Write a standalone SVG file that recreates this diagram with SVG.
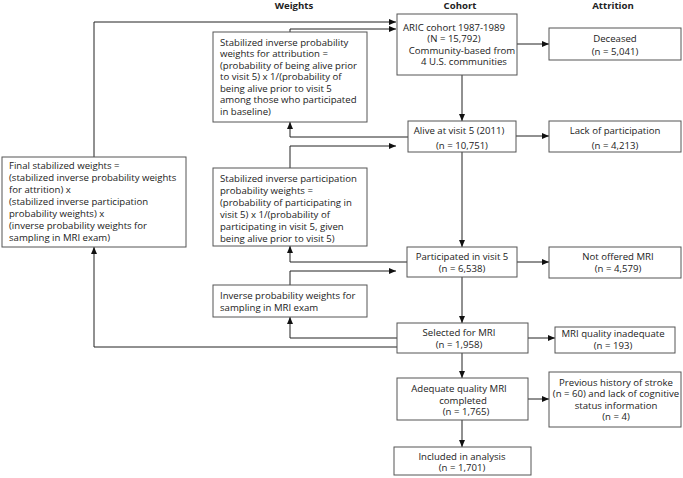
<svg xmlns="http://www.w3.org/2000/svg" width="683" height="478" viewBox="0 0 683 478">
<style>
.box{fill:#fff;stroke:#555;stroke-width:1}
.t{font-family:"Open Sans","Noto Sans",sans-serif;font-size:9.6px;fill:#222}
.c{text-anchor:middle}
.h{font-family:"Open Sans","Noto Sans",sans-serif;font-size:9.6px;font-weight:bold;fill:#222;text-anchor:middle}
.ln{fill:none;stroke:#222;stroke-width:1}
</style>
<defs>
<marker id="ar" markerWidth="7" markerHeight="6" refX="7" refY="3" orient="auto" markerUnits="userSpaceOnUse">
<path d="M0,0 L7,3 L0,6 Z" fill="#111"/>
</marker>
</defs>
<rect width="683" height="478" fill="#fff"/>
<g id="headers">
<text class="h" x="294" y="8.5">Weights</text>
<text class="h" x="460" y="8.5">Cohort</text>
<text class="h" x="613" y="8.5">Attrition</text>
</g>
<g id="connectors">
<path class="ln" d="M462,75 V121" marker-end="url(#ar)"/>
<path class="ln" d="M462,152 V247" marker-end="url(#ar)"/>
<path class="ln" d="M462,277 V323" marker-end="url(#ar)"/>
<path class="ln" d="M462,353 V378" marker-end="url(#ar)"/>
<path class="ln" d="M462,420 V447" marker-end="url(#ar)"/>
<path class="ln" d="M517,44 H549" marker-end="url(#ar)"/>
<path class="ln" d="M516,136 H549" marker-end="url(#ar)"/>
<path class="ln" d="M517,262 H549" marker-end="url(#ar)"/>
<path class="ln" d="M528,338 H555" marker-end="url(#ar)"/>
<path class="ln" d="M528,399 H549" marker-end="url(#ar)"/>
<path class="ln" d="M94,157 V22 H396" marker-end="url(#ar)"/>
<path class="ln" d="M290,32 V29 H396" marker-end="url(#ar)"/>
<path class="ln" d="M408,137 H290 V122" marker-end="url(#ar)"/>
<path class="ln" d="M290,168 V146 H396" marker-end="url(#ar)"/>
<path class="ln" d="M407,262 H290 V246" marker-end="url(#ar)"/>
<path class="ln" d="M290,285 V271 H396" marker-end="url(#ar)"/>
<path class="ln" d="M397,338 H290 V317" marker-end="url(#ar)"/>
<path class="ln" d="M397,347 H94 V247" marker-end="url(#ar)"/>
</g>
<g id="aric">
<rect class="box" x="397" y="14" width="120" height="61"/>
<text class="t c" x="454" y="30.5">ARIC cohort 1987-1989</text>
<text class="t c" x="454" y="42">(N = 15,792)</text>
<text class="t c" x="462" y="53.5">Community-based from</text>
<text class="t c" x="464" y="65">4 U.S. communities</text>
</g>
<g id="deceased">
<rect class="box" x="549" y="28" width="132" height="32"/>
<text class="t c" x="615" y="42">Deceased</text>
<text class="t c" x="615" y="55">(n = 5,041)</text>
</g>
<g id="alive">
<rect class="box" x="408" y="121" width="108" height="31"/>
<text class="t c" x="459" y="134">Alive at visit 5 (2011)</text>
<text class="t c" x="462" y="149">(n = 10,751)</text>
</g>
<g id="lack">
<rect class="box" x="549" y="121" width="132" height="31"/>
<text class="t c" x="615" y="134">Lack of participation</text>
<text class="t c" x="615" y="149">(n = 4,213)</text>
</g>
<g id="participated">
<rect class="box" x="407" y="247" width="110" height="30"/>
<text class="t c" x="462" y="260">Participated in visit 5</text>
<text class="t c" x="462" y="272">(n = 6,538)</text>
</g>
<g id="notoffered">
<rect class="box" x="549" y="247" width="132" height="31"/>
<text class="t c" x="618" y="260">Not offered MRI</text>
<text class="t c" x="618" y="272">(n = 4,579)</text>
</g>
<g id="selected">
<rect class="box" x="397" y="323" width="131" height="30"/>
<text class="t c" x="459" y="336">Selected for MRI</text>
<text class="t c" x="459" y="348">(n = 1,958)</text>
</g>
<g id="inadequate">
<rect class="box" x="555" y="327" width="120" height="26"/>
<text class="t c" x="613" y="336.5">MRI quality inadequate</text>
<text class="t c" x="613" y="348.5">(n = 193)</text>
</g>
<g id="adequate">
<rect class="box" x="397" y="378" width="131" height="42"/>
<text class="t c" x="459" y="392">Adequate quality MRI</text>
<text class="t c" x="463" y="403.5">completed</text>
<text class="t c" x="466" y="415">(n = 1,765)</text>
</g>
<g id="stroke">
<rect class="box" x="549" y="372" width="132" height="55"/>
<text class="t c" x="616" y="385.5">Previous history of stroke</text>
<text class="t c" x="616" y="397">(n = 60) and lack of cognitive</text>
<text class="t c" x="616" y="408.5">status information</text>
<text class="t c" x="616" y="420">(n = 4)</text>
</g>
<g id="included">
<rect class="box" x="394" y="447" width="137" height="28"/>
<text class="t c" x="462" y="459.5">Included in analysis</text>
<text class="t c" x="462" y="471">(n = 1,701)</text>
</g>
<g id="w-attrition">
<rect class="box" x="213" y="32" width="154" height="90"/>
<text class="t" x="220" y="45.5">Stabilized inverse probability</text>
<text class="t" x="220" y="57">weights for attribution =</text>
<text class="t" x="220" y="68.5">(probability of being alive prior</text>
<text class="t" x="220" y="80">to visit 5) x 1/(probability of</text>
<text class="t" x="220" y="91.5">being alive prior to visit 5</text>
<text class="t" x="220" y="103">among those who participated</text>
<text class="t" x="220" y="114.5">in baseline)</text>
</g>
<g id="w-participation">
<rect class="box" x="213" y="168" width="154" height="78"/>
<text class="t" x="220" y="181.5">Stabilized inverse participation</text>
<text class="t" x="220" y="193.5">probability weights =</text>
<text class="t" x="220" y="205.5">(probability of participating in</text>
<text class="t" x="220" y="217.5">visit 5) x 1/(probability of</text>
<text class="t" x="220" y="229.5">participating in visit 5, given</text>
<text class="t" x="220" y="241.5">being alive prior to visit 5)</text>
</g>
<g id="w-mri">
<rect class="box" x="213" y="285" width="154" height="32"/>
<text class="t" x="220" y="298.5">Inverse probability weights for</text>
<text class="t" x="220" y="310.5">sampling in MRI exam</text>
</g>
<g id="final">
<rect class="box" x="2" y="157" width="184" height="90"/>
<text class="t" x="9" y="168.5">Final stabilized weights =</text>
<text class="t" x="9" y="181">(stabilized inverse probability weights</text>
<text class="t" x="9" y="193">for attrition) x</text>
<text class="t" x="9" y="205">(stabilized inverse participation</text>
<text class="t" x="9" y="217">probability weights) x</text>
<text class="t" x="9" y="229">(inverse probability weights for</text>
<text class="t" x="9" y="241">sampling in MRI exam)</text>
</g>
</svg>
